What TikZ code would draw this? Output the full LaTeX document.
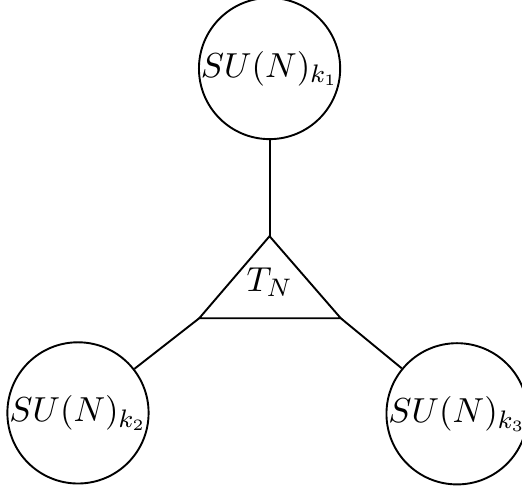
\documentclass[tikz,border=0pt]{standalone}
\usepackage{amsmath, amssymb}
\usetikzlibrary{positioning, calc}

\begin{document}
\begin{tikzpicture}[
  font=\fontsize{11}{13}\selectfont,
  gauge/.style={draw, circle, semithick, inner sep=0pt, minimum size=1.54cm},
  leg/.style={semithick}
]
  \useasboundingbox (0, 0) rectangle (5.79, -5.43);

  % Gauge groups
  \node[gauge] (k1) at (2.99, -0.76) {$SU(N)_{k_1}$};
  \node[gauge] (k2) at (0.865, -4.58) {$SU(N)_{k_2}$};
  \node[gauge] (k3) at (5.07, -4.59) {$SU(N)_{k_3}$};

  % Trinion
  \coordinate (tA) at (2.99, -2.62);
  \coordinate (tL) at (2.21, -3.53);
  \coordinate (tR) at (3.78, -3.53);
  \draw[leg, line join=miter] (tA) -- (tL) -- (tR) -- cycle;
  \node (TN) at (2.99, -3.13) {$T_N$};

  % Legs
  \draw[leg] (k1) -- (tA);
  \draw[leg] (tL) -- (k2);
  \draw[leg] (tR) -- (k3);
\end{tikzpicture}
\end{document}
